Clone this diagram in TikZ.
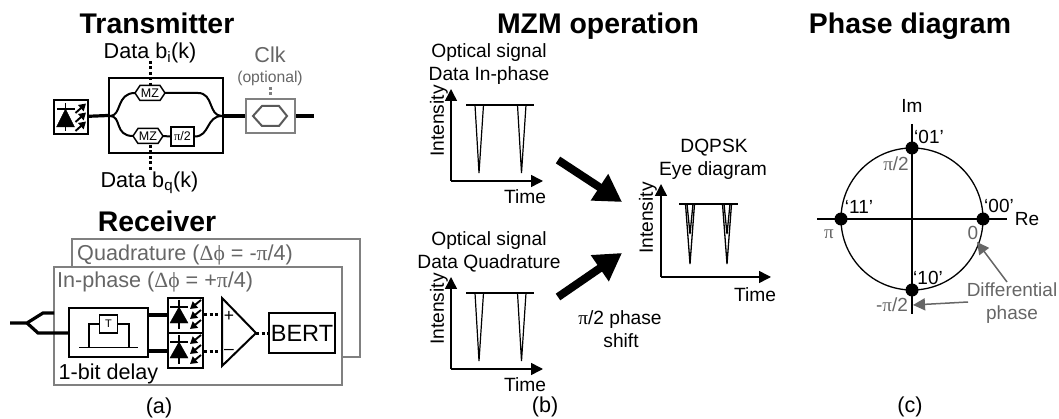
\documentclass[tikz,border=0pt]{standalone}
\usepackage{fontspec}
\setmainfont{Liberation Sans}
\newfontfamily\symfont{Liberation Serif}
\usetikzlibrary{
    arrows.meta, % Big arrow heads.
}

\newcommand{\piSym}{{\symfont π}}
\newcommand{\phiSym}{{\symfont Δϕ}}

\definecolor{greyline}{gray}{0.4}
\tikzset{
    title/.style = {font = \fontsize{28.4}{28.4}\selectfont\bfseries, inner sep = 0, text height = 20.3pt, text depth = 0pt},
    label/.style = {font = \fontsize{19.2}{19.2}\selectfont, inner sep = 0, text height = 13.8pt, text depth = 0pt},
    biglabel/.style = {font = \fontsize{21.6}{21.6}\selectfont, inner sep = 0, text height = 15.5pt, text depth = 0pt},
    small/.style = {font = \fontsize{19}{19}\selectfont, inner sep = 0, text height = 13.6pt, text depth = 0pt},
    greylabel/.style = {small, text = greyline},
    block/.style = {draw, line width = 2pt, fill = white},
    tiny/.style = {font = \fontsize{12.5}{12.5}\selectfont, inner sep = 0},
    fibre/.style = {line width = 3.2pt},
    guide/.style = {line width = 2pt},
    signal/.style = {line width = 3pt, dash pattern = on 3pt off 2.5pt},
    axis/.style = {line width = 1.5pt, -{Triangle[length = 12pt, width = 12pt]}},
    pulse/.style = {line width = 1.2pt},
    bigarrow/.style = {line width = 8pt, -{Triangle[length = 27pt, width = 30pt]}},
    greyarrow/.style = {line width = 1.5pt, greyline, -{Triangle[length = 12pt, width = 12pt]}},
    lightarrow/.style = {line width = 1.9pt, -{Triangle[length = 7pt, width = 8pt]}},
    dot/.style = {circle, fill = black, minimum size = 13pt, inner sep = 0},
}

\begin{document}
\begin{tikzpicture}[x = 1pt, y = -1pt, line cap = butt]

        \useasboundingbox (0, 0) rectangle (1059, 419);

        % Titles of the three columns.
        \node (titleT) at (157, 23) [title] {Transmitter};
        \node (titleR) at (157, 221) [title] {Receiver};
        \node (titleM) at (598, 23) [title] {MZM operation};
        \node (titleP) at (910, 23) [title] {Phase diagram};

        % Modulator box with its arms.
        \node (mod) at (166, 115.5) [block, minimum width = 114pt, minimum height = 75pt, inner sep = 0] {};
        \coordinate (modIn) at (110, 116);
        \coordinate (modOut) at (222, 116);
        \node (mzI) at (150, 93) [tiny] {MZ};
        \node (mzQ) at (148, 136) [tiny] {MZ};
        \node (shift) at (182.5, 136.5) [draw, line width = 1.5pt, minimum width = 23pt, minimum height = 19pt, tiny] {\piSym/2};
        \draw[line width = 1.5pt] (135, 93) -- (140, 85.5) -- (160, 85.5) -- (165, 93) -- (160, 100.5) -- (140, 100.5) -- cycle;
        \draw[line width = 1.5pt] (133, 136) -- (138, 128.5) -- (158, 128.5) -- (163, 136) -- (158, 143.5) -- (138, 143.5) -- cycle;
        \draw[guide] (modIn) .. controls (122, 116) and (116, 93) .. (135, 93);
        \draw[guide] (modIn) .. controls (122, 116) and (114, 136) .. (133, 136);
        \draw[guide] (165, 93) -- (198, 93) .. controls (214, 93) and (208, 116) .. (modOut);
        \draw[guide] (163, 136) -- (shift.west);
        \draw[guide] (shift.east) .. controls (210, 136.5) and (206, 116) .. (modOut);

        % Laser source.
        \node (laser) at (71, 117) [block, minimum size = 34pt, inner sep = 0] {};
        \draw[fill = black] (56.5, 127) -- (65.5, 109) -- (74.5, 127) -- cycle;
        \draw[line width = 1.5pt] (57, 109) -- (75, 109);
        \draw[line width = 1.5pt] (65.5, 103) -- (65.5, 131);
        \foreach \y in {113, 122, 131} {
            \draw[lightarrow] (75.5, \y) -- (86, \y - 9.5);
        }
        \draw[fibre] (laser) -- (mod.west);

        % Optional clock modulator.
        \node (clk) at (270.5, 116) [block, draw = gray, minimum width = 49pt, minimum height = 34pt, inner sep = 0] {};
        \draw[guide, gray!70!black] (253, 116) -- (262, 106) -- (279, 106) -- (287, 116) -- (279, 126) -- (262, 126) -- cycle;
        \coordinate (lineEnd) at (314, 116);
        \draw[fibre] (mod.east |- clk) -- (clk.west);
        \draw[fibre] (clk.east) -- (lineEnd);
        \node (clkName) at (270, 55) [biglabel, text = greyline] {Clk};
        \node (clkOpt) at (270, 78) [font = \fontsize{15.7}{15.7}\selectfont, inner sep = 0, text = greyline] {(optional)};
        \coordinate (clkA) at (270, 87);
        \coordinate (clkB) at (270, 97);
        \draw[signal, gray] (clkA) -- (clkB);

        % Data inputs.
        \node (dataI) at (150, 51) [biglabel] {Data b\textsubscript{i}(k)};
        \node (dataQ) at (149.5, 180) [biglabel] {Data b\textsubscript{q}(k)};
        \coordinate (dataIa) at (150, 61);
        \coordinate (dataIb) at (150, 85);
        \coordinate (dataQa) at (150, 145);
        \coordinate (dataQb) at (150, 170);
        \draw[signal] (dataIa) -- (dataIb);
        \draw[signal] (dataQa) -- (dataQb);

        % Receiver planes.
        \node (planeQ) at (216, 298) [block, draw = gray, line width = 1.2pt, minimum width = 288pt, minimum height = 118pt, inner sep = 0] {};
        \node (planeI) at (198, 326) [block, draw = gray, line width = 1.2pt, minimum width = 288pt, minimum height = 118pt, inner sep = 0] {};
        \node (nameQ) at (77, 253) [biglabel, anchor = west, text = greyline] {Quadrature (\phiSym\ = -\piSym/4)};
        \node (nameI) at (57, 280) [biglabel, anchor = west, text = greyline] {In-phase (\phiSym\ = +\piSym/4)};

        % Delay line interferometer.
        \node (delay) at (108.5, 332.5) [block, minimum width = 79pt, minimum height = 49pt, inner sep = 0] {};
        \node (tau) at (108.5, 324) [draw, line width = 1.2pt, minimum size = 18pt, inner sep = 0, font = \fontsize{11}{11}\selectfont] {T};
        \draw[line width = 1.2pt] (79, 347.5) -- (138, 347.5);
        \draw[line width = 1.2pt] (89, 347.5) |- (tau.west);
        \draw[line width = 1.2pt] (129, 347.5) |- (tau.east);
        \node (delayName) at (108.5, 372) [biglabel] {1-bit delay};

        % Input splitter.
        \coordinate (inA) at (10, 323);
        \coordinate (inB) at (27, 323);
        \draw[fibre] (inA) -- (inB) -- (43, 313) -- (54, 313);
        \draw[fibre] (inB) -- (38, 333) -- (delay.west |- 0, 333);

        % Balanced photodiodes.
        \node (pdA) at (185.5, 315.5) [block, minimum size = 35pt, inner sep = 0] {};
        \node (pdB) at (185.5, 350.5) [block, minimum size = 35pt, inner sep = 0] {};
        \foreach \y in {298, 333} {
            \draw[fill = black] (170, \y + 25) -- (179, \y + 9) -- (188, \y + 25) -- cycle;
            \draw[line width = 1.5pt] (170, \y + 9) -- (188, \y + 9);
            \draw[line width = 1.5pt] (179, \y + 2) -- (179, \y + 31);
            \foreach \d in {2, 12, 22} {
                \draw[lightarrow] (201, \y + \d) -- (190, \y + \d + 9);
            }
        }
        \draw[fibre] (148, 315) -- (pdA.west |- 0, 315);
        \draw[fibre] (148, 351) -- (pdB.west |- 0, 351);

        % Comparator and error tester.
        \coordinate (triA) at (222, 298);
        \coordinate (triB) at (222, 366);
        \coordinate (triC) at (256, 333);
        \draw[guide] (triA) -- (triB) -- (triC) -- cycle;
        \node (plus) at (229, 316) [font = \fontsize{17.5}{17.5}\selectfont, inner sep = 0] {+};
        \node (minus) at (229, 352) [font = \fontsize{17.5}{17.5}\selectfont, inner sep = 0] {--};
        \node (bert) at (302, 333) [block, minimum width = 66pt, minimum height = 40pt, inner sep = 0, font = \fontsize{23.5}{23.5}\selectfont] {BERT};
        \draw[signal] (204, 314.5) -- (triA |- 0, 314.5);
        \draw[signal] (204, 351) -- (triA |- 0, 351);
        \draw[signal] (triC) -- (bert.west);

        \node (capA) at (159, 406) [biglabel] {(a)};
        \node (capB) at (545, 405) [biglabel] {(b)};
        \node (capC) at (910, 405) [biglabel] {(c)};

        % The two data plots.
        \foreach \dy/\first/\second [count = \i] in {0/Optical signal/Data In-phase, 188/Optical signal/Data Quadrature} {
            \draw[axis] (451, 181 + \dy) -- (451, 89 + \dy);
            \draw[axis] (451, 181 + \dy) -- (543, 181 + \dy);
            \draw[pulse] (466, 105 + \dy) -- (534, 105 + \dy);
            \draw[pulse] (475, 105 + \dy) -- (479, 173 + \dy) -- (483.5, 105 + \dy);
            \draw[pulse] (517.5, 105 + \dy) -- (521.5, 173 + \dy) -- (526, 105 + \dy);
            \node (head\i) at (489, 51 + \dy) [label] {\first};
            \node (sub\i) at (489, 74 + \dy) [label] {\second};
            \node (int\i) at (437, 121 + \dy) [label, rotate = 90] {Intensity};
            \node (time\i) at (525, 197 + \dy) [label] {Time};
        }

        % Eye diagram.
        \draw[axis] (661, 277) -- (661, 184);
        \draw[axis] (661, 277) -- (771, 277);
        \draw[pulse] (679, 204) -- (738, 204);
        \foreach \x in {690, 727} {
            \draw[line width = 1.3pt] (\x - 4.5, 204) -- (\x, 264) -- (\x + 4.5, 204);
            \draw[line width = 1.3pt] (\x - 3, 204) -- (\x, 234) -- (\x + 3, 204);
        }
        \node (eyeA) at (714, 146) [label] {DQPSK};
        \node (eyeB) at (713, 169) [label] {Eye diagram};
        \node (eyeI) at (646, 218) [label, rotate = 90] {Intensity};
        \node (eyeT) at (755, 295) [label] {Time};
        \node (shiftA) at (620, 318) [label] {\piSym/2 phase};
        \node (shiftB) at (621, 341) [label] {shift};

        % Heavy arrows into the eye diagram.
        \coordinate (topFrom) at (558, 160);
        \coordinate (lowFrom) at (558, 297);
        \coordinate (eyeTop) at (622, 202);
        \coordinate (eyeLow) at (622, 253);
        \draw[bigarrow] (topFrom) -- (eyeTop);
        \draw[bigarrow] (lowFrom) -- (eyeLow);

        % Phase circle.
        \coordinate (O) at (912, 219);
        \coordinate (reA) at (817, 219);
        \coordinate (reB) at (1007, 219);
        \coordinate (imA) at (912, 124);
        \coordinate (imB) at (912, 314);
        \draw[line width = 1.3pt] (O) circle (71);
        \draw[line width = 1.3pt] (reA) -- (reB);
        \draw[line width = 1.3pt] (imA) -- (imB);
        \node (p00) at (983, 219) [dot] {};
        \node (p01) at (912, 148) [dot] {};
        \node (p11) at (841, 219) [dot] {};
        \node (p10) at (912, 290) [dot] {};

        % Labels of the phase circle.
        \node (im) at (912, 106) [small] {Im};
        \node (re) at (1027, 219) [small] {Re};
        \node (l01) at (929, 137) [small] {‘01’};
        \node (l00) at (999, 206) [small] {‘00’};
        \node (l11) at (859, 207) [small] {‘11’};
        \node (l10) at (928, 278) [small] {‘10’};
        \node (lpi) at (829, 232) [greylabel] {\piSym};
        \node (lzero) at (973, 233) [greylabel] {0};
        \node (lup) at (896, 164) [greylabel] {\piSym/2};
        \node (ldown) at (892, 305) [greylabel] {-\piSym/2};
        \node (diffA) at (1012, 290) [greylabel] {Differential};
        \node (diffB) at (1012, 313) [greylabel] {phase};
        \coordinate (tipA) at (977, 242);
        \coordinate (tipB) at (913, 305);
        \coordinate (fromA) at (1007, 282);
        \coordinate (fromB) at (968, 302);
        \draw[greyarrow] (fromA) -- (tipA);
        \draw[greyarrow] (fromB) -- (tipB);
    \end{tikzpicture}
\end{document}
